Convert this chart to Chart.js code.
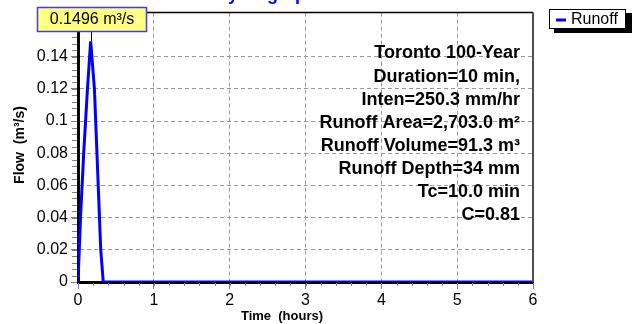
<!DOCTYPE html>
<html>
<head>
<meta charset="utf-8">
<script src="https://cdn.jsdelivr.net/npm/chart.js@4/dist/chart.umd.min.js"></script>
<style>
  html, body { margin: 0; padding: 0; background: #fff; }
  #wrap { width: 636px; height: 324px; position: relative; }
</style>
</head>
<body>
<div id="wrap"><canvas id="hydro"></canvas></div>
<script>
// values
var timeMinutes = [0, 2, 4.5, 6, 7.5, 10, 13, 14, 15, 16, 17, 18, 20, 360];
var flowValues = [0, 0.04, 0.08, 0.1, 0.12, 0.1496, 0.12, 0.1, 0.08, 0.06, 0.04, 0.02, 0, 0];
var seriesName = 'Runoff';
var chartTitle = 'Hydrograph';
var xTitle = 'Time  (hours)';
var yTitle = 'Flow  (m³/s)';
var infoLines = [
  'Toronto 100-Year',
  'Duration=10 min,',
  'Inten=250.3 mm/hr',
  'Runoff Area=2,703.0 m²',
  'Runoff Volume=91.3 m³',
  'Runoff Depth=34 mm',
  'Tc=10.0 min',
  'C=0.81'
];

var FONT = 'Arial, "Liberation Sans", sans-serif';

var points = timeMinutes.map(function (m, i) {
  return { x: m / 60, y: flowValues[i] };
});

var extras = {
  id: 'extras',
  afterDraw: function (chart) {
    var ctx = chart.ctx;
    var a = chart.chartArea;
    var xs = chart.scales.x, ys = chart.scales.y;
    ctx.save();

    // minor ticks
    ctx.strokeStyle = '#808080';
    ctx.lineWidth = 1;
    ctx.beginPath();
    for (var t = 0; t <= 6.001; t += 0.2) {
      var px = Math.round(xs.getPixelForValue(t)) + 0.5;
      ctx.moveTo(px, a.bottom + 1);
      ctx.lineTo(px, a.bottom + 4);
    }
    for (var v = 0; v <= ys.max; v += 0.004) {
      var py = Math.round(ys.getPixelForValue(v)) + 0.5;
      ctx.moveTo(a.left - 6, py);
      ctx.lineTo(a.left - 1, py);
    }
    ctx.stroke();

    // top and right frame
    ctx.strokeStyle = '#000';
    ctx.lineWidth = 1.5;
    ctx.beginPath();
    ctx.moveTo(a.left, a.top);
    ctx.lineTo(a.right, a.top);
    ctx.stroke();
    ctx.strokeStyle = '#505050';
    ctx.lineWidth = 2;
    ctx.beginPath();
    ctx.moveTo(a.right, a.top);
    ctx.lineTo(a.right, a.bottom);
    ctx.stroke();

    // info text
    ctx.fillStyle = '#000';
    ctx.font = 'bold 18px ' + FONT;
    ctx.textAlign = 'right';
    ctx.textBaseline = 'middle';
    infoLines.forEach(function (s, i) {
      ctx.fillText(s, 520, 53.5 + i * 23.1);
    });

    // peak label with leader line
    var peakIdx = 0;
    flowValues.forEach(function (f, i) { if (f > flowValues[peakIdx]) peakIdx = i; });
    var pk = chart.getDatasetMeta(0).data[peakIdx];
    ctx.strokeStyle = '#000';
    ctx.lineWidth = 1;
    ctx.beginPath();
    ctx.moveTo(Math.round(pk.x) + 0.5, 32);
    ctx.lineTo(Math.round(pk.x) + 0.5, pk.y);
    ctx.stroke();
    ctx.fillStyle = '#ffff80';
    ctx.fillRect(37, 7, 110, 25);
    ctx.strokeStyle = '#3c3cff';
    ctx.lineWidth = 1.5;
    ctx.strokeRect(37.5, 7.5, 109, 24);
    ctx.fillStyle = '#000';
    ctx.font = '16px ' + FONT;
    ctx.textAlign = 'center';
    ctx.fillText(flowValues[peakIdx].toFixed(4) + ' m³/s', 92, 20);

    // legend
    ctx.fillStyle = '#000';
    ctx.fillRect(554, 13, 78, 20);
    ctx.fillStyle = '#fff';
    ctx.fillRect(549, 9, 77, 20);
    ctx.strokeStyle = '#000';
    ctx.lineWidth = 1;
    ctx.strokeRect(549.5, 9.5, 76, 19);
    ctx.strokeStyle = '#0000ff';
    ctx.lineWidth = 3;
    ctx.beginPath();
    ctx.moveTo(556, 20);
    ctx.lineTo(566, 20);
    ctx.stroke();
    ctx.fillStyle = '#000';
    ctx.font = '16px ' + FONT;
    ctx.textAlign = 'left';
    ctx.fillText(seriesName, 571, 20);

    // title (cut off at the top)
    ctx.fillStyle = '#0000ff';
    ctx.font = 'bold 18px ' + FONT;
    ctx.textAlign = 'center';
    ctx.textBaseline = 'alphabetic';
    ctx.fillText(chartTitle, 266, -0.5);

    // axis titles
    ctx.fillStyle = '#000';
    ctx.font = 'bold 13px ' + FONT;
    ctx.textBaseline = 'middle';
    ctx.fillText(xTitle, 282, 316);
    ctx.translate(20, 145);
    ctx.rotate(-Math.PI / 2);
    ctx.font = 'bold 14px ' + FONT;
    ctx.fillText(yTitle, 0, 0);
    ctx.restore();
  }
};

new Chart(document.getElementById('hydro'), {
  type: 'line',
  data: {
    datasets: [{
      label: seriesName,
      data: points,
      borderColor: '#0000ff',
      borderWidth: 3,
      pointRadius: 0,
      tension: 0,
      fill: false
    }]
  },
  options: {
    responsive: true,
    maintainAspectRatio: false,
    animation: false,
    layout: { padding: { left: 0, top: 9, right: 103, bottom: 0 } },
    plugins: {
      legend: { display: false },
      tooltip: { enabled: false }
    },
    scales: {
      x: {
        type: 'linear',
        min: 0,
        max: 6,
        afterFit: function (s) { s.height = 42; },
        ticks: {
          stepSize: 1,
          color: '#000',
          font: { family: FONT, size: 16 },
          padding: 2,
          maxRotation: 0
        },
        grid: {
          color: '#999999',
          tickColor: '#808080',
          tickLength: 7,
          tickBorderDash: []
        },
        border: { color: '#000', width: 3, dash: [4, 3] }
      },
      y: {
        type: 'linear',
        min: 0,
        max: 0.1674,
        afterFit: function (s) { s.width = 78; },
        afterBuildTicks: function (s) {
          s.ticks = s.ticks.filter(function (t) {
            return Math.abs(t.value / 0.02 - Math.round(t.value / 0.02)) < 1e-6;
          });
        },
        ticks: {
          stepSize: 0.02,
          color: '#000',
          font: { family: FONT, size: 16 },
          padding: 3,
          callback: function (v) { return String(+v.toFixed(2)); }
        },
        grid: {
          color: '#999999',
          tickColor: '#808080',
          tickLength: 7,
          tickBorderDash: []
        },
        border: { color: '#000', width: 3, dash: [4, 3] }
      }
    }
  },
  plugins: [extras]
});
</script>
</body>
</html>
